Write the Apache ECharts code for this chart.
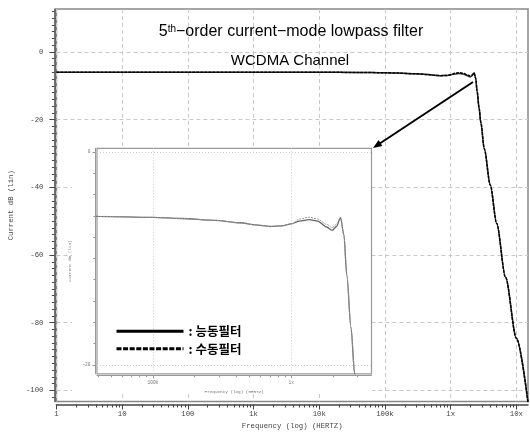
<!DOCTYPE html>
<html><head><meta charset="utf-8">
<script src="https://cdn.jsdelivr.net/npm/echarts@6/dist/echarts.min.js"></script>
<style>html,body{margin:0;padding:0;background:#fff}#c{width:530px;height:435px}</style>
</head><body><div id="c"></div>
<script>
// ---- data ----
const freqHz = [1, 10, 100, 1e3, 1e4, 4e4, 1e5, 1.6e5, 2.8e5, 4.3e5, 5.5e5, 7e5, 8.5e5, 1e6, 1.15e6, 1.35e6, 1.55e6, 1.8e6, 1.98e6, 2.12e6, 2.27e6, 2.4e6, 2.52e6, 2.7e6, 2.87e6, 3.24e6, 4e6, 5e6, 6.82e6, 1e7, 1.5e7];
const activeDb = [-6.0, -6.0, -6.0, -6.0, -6.0, -6.05, -6.15, -6.25, -6.42, -6.65, -6.85, -7.0, -6.95, -6.75, -6.5, -6.35, -6.5, -7.05, -7.36, -7.0, -6.16, -7.8, -11.6, -16.5, -20.8, -28.6, -39.3, -50.6, -66.6, -84.6, -103.6];
const passiveDb = [-6.0, -6.0, -6.0, -6.0, -6.0, -6.05, -6.15, -6.25, -6.42, -6.65, -6.85, -7.0, -6.95, -6.75, -6.3, -6.13, -6.3, -6.8, -7.1, -6.8, -6.16, -7.8, -11.6, -16.5, -20.8, -28.6, -39.3, -50.6, -66.6, -84.6, -103.6];
const seriesNames = ['능동필터', '수동필터'];

const xMajor = [1, 10, 100, 1e3, 1e4, 1e5, 1e6, 1e7];
const xTickLabels = ['1', '10', '100', '1k', '10k', '100k', '1x', '10x'];
const yMajor = [0, -20, -40, -60, -80, -100];
const yTickLabels = ['0', '-20', '-40', '-60', '-80', '-100'];

const insetXMajor = [1e5, 1e6];
const insetXLabels = ['100k', '1x'];
const insetYMajor = [0, -20];
const insetYLabels = ['0', '-20'];

const titleText = '5{sup|th}−order current−mode lowpass filter';
const subtitleText = 'WCDMA Channel';

// ---- axis tick helpers ----
const xMinor = [];
for (let d = 1; d <= 1e7; d *= 10) for (let k = 2; k <= 9; k++) if (k * d <= 1.5e7) xMinor.push(k * d);
const yMinor = [];
for (let v = -102; v <= 12; v += 2) yMinor.push(v);
const insetXMinor = [4e4, 5e4, 6e4, 7e4, 8e4, 9e4, 2e5, 3e5, 4e5, 5e5, 6e5, 7e5, 8e5, 9e5, 2e6, 3e6];
const insetYMinor = [];
for (let v = 0; v >= -20; v -= 2) insetYMinor.push(v);

const pairs = ys => freqHz.map((f, i) => [f, ys[i]]);
const mono = 'Liberation Mono';
const axisCol = '#444';

function lbl(values, labels, v) {
  let best = 0, bd = Infinity;
  values.forEach((x, i) => { const d = Math.abs(Math.log10(x) - Math.log10(v)); if (d < bd) { bd = d; best = i; } });
  return labels[best];
}

const chart = echarts.init(document.getElementById('c'));
const option = {
  animation: false,
  backgroundColor: '#fff',
  title: [
    { text: titleText, left: 291, top: 24, textAlign: 'center', padding: 0,
      textStyle: { fontFamily: 'Liberation Sans', fontSize: 16, fontWeight: 'normal', color: '#000',
        rich: { sup: { fontFamily: 'Liberation Sans', fontSize: 10, verticalAlign: 'top', color: '#000' } } } },
    { text: subtitleText, left: 290, top: 53.5, textAlign: 'center', padding: 0,
      textStyle: { fontFamily: 'Liberation Sans', fontSize: 15, fontWeight: 'normal', color: '#000' } }
  ],
  legend: {
    orient: 'vertical', left: 115, top: 325, padding: 0, itemWidth: 67, itemHeight: 14, itemGap: 5, z: 20,
    data: [{ name: seriesNames[0] }, { name: seriesNames[1], lineStyle: { type: [5, 1.6] } }],
    formatter: ': {name}', selectedMode: false,
    lineStyle: { color: '#000', width: 3 },
    itemStyle: { opacity: 0, borderWidth: 0 },
    textStyle: { fontFamily: 'Noto Sans CJK KR', fontSize: 12.5, fontWeight: 'bold', color: '#000' }
  },
  grid: [
    { left: 54, right: 2, top: 9, bottom: 29.5, show: true, borderColor: '#888', borderWidth: 1.5, z: 0 },
    { left: 97, right: 158.5, top: 148.3, bottom: 61.2, show: true, borderColor: '#999', borderWidth: 1.2, backgroundColor: '#fff', z: 6 }
  ],
  xAxis: [
    { gridIndex: 0, type: 'log', logBase: 10, min: 1, max: 1.5e7, position: 'bottom', offset: 3, z: 1,
      axisLine: { show: true, onZero: false, lineStyle: { color: axisCol, width: 1.5 } },
      axisTick: { show: true, length: 5, customValues: xMajor, lineStyle: { color: axisCol } },
      axisLabel: { customValues: xMajor, formatter: v => lbl(xMajor, xTickLabels, v), fontFamily: mono, fontSize: 7.3, color: axisCol, margin: 6 },
      splitLine: { show: true, lineStyle: { color: '#c8c8c8', type: [4, 3] } },
      name: 'Frequency (log) (HERTZ)', nameLocation: 'middle', nameGap: 18.5,
      nameTextStyle: { fontFamily: mono, fontSize: 7.3, color: axisCol } },
    { gridIndex: 0, type: 'log', logBase: 10, min: 1, max: 1.5e7, position: 'bottom', offset: 3, z: 1,
      axisLine: { show: false, onZero: false }, axisLabel: { show: false }, splitLine: { show: false },
      axisTick: { show: true, length: 3, customValues: xMinor, lineStyle: { color: axisCol } } },
    { gridIndex: 1, type: 'log', logBase: 10, min: 39400, max: 3.8e6, position: 'bottom', offset: 1.5, z: 7,
      axisLine: { show: true, onZero: false, lineStyle: { color: '#999', width: 1 } },
      axisTick: { show: true, length: 3, customValues: insetXMajor, lineStyle: { color: '#999' } },
      axisLabel: { customValues: insetXMajor, formatter: v => lbl(insetXMajor, insetXLabels, v), fontFamily: mono, fontSize: 4.5, color: '#777', margin: 5 },
      splitLine: { show: true, lineStyle: { color: '#ccc', type: [1, 2] } },
      name: 'Frequency (log) (HERTZ)', nameLocation: 'middle', nameGap: 11.5,
      nameTextStyle: { fontFamily: mono, fontSize: 4.3, color: '#777' } },
    { gridIndex: 1, type: 'log', logBase: 10, min: 39400, max: 3.8e6, position: 'bottom', offset: 1.5, z: 7,
      axisLine: { show: false, onZero: false }, axisLabel: { show: false }, splitLine: { show: false },
      axisTick: { show: true, length: 2, customValues: insetXMinor, lineStyle: { color: '#999' } } }
  ],
  yAxis: [
    { gridIndex: 0, type: 'value', min: -103.3, max: 12.7, position: 'left', offset: 2, z: 1,
      axisLine: { show: true, onZero: false, lineStyle: { color: axisCol, width: 1.5 } },
      axisTick: { show: true, length: 5, customValues: yMajor, lineStyle: { color: axisCol } },
      axisLabel: { customValues: yMajor, formatter: v => yTickLabels[yMajor.indexOf(Math.round(v))], fontFamily: mono, fontSize: 7.3, color: axisCol, margin: 11 },
      splitLine: { show: true, lineStyle: { color: '#c8c8c8', type: [4, 3] } },
      name: 'Current dB (lin)', nameLocation: 'middle', nameGap: 36,
      nameTextStyle: { fontFamily: mono, fontSize: 7.3, color: axisCol } },
    { gridIndex: 0, type: 'value', min: -103.3, max: 12.7, position: 'left', offset: 2, z: 1,
      axisLine: { show: false, onZero: false }, axisLabel: { show: false }, splitLine: { show: false },
      axisTick: { show: true, length: 2.5, customValues: yMinor, lineStyle: { color: axisCol } } },
    { gridIndex: 1, type: 'value', min: -20.85, max: 0.35, position: 'left', offset: 1.5, z: 7,
      axisLine: { show: true, onZero: false, lineStyle: { color: '#999', width: 1 } },
      axisTick: { show: true, length: 3, customValues: insetYMajor, lineStyle: { color: '#999' } },
      axisLabel: { customValues: insetYMajor, formatter: v => insetYLabels[insetYMajor.indexOf(Math.round(v))], fontFamily: mono, fontSize: 4.5, color: '#777', margin: 5 },
      splitLine: { show: true, lineStyle: { color: '#ccc', type: [1, 2] } },
      name: 'Current dB (lin)', nameLocation: 'middle', nameGap: 17.5,
      nameTextStyle: { fontFamily: mono, fontSize: 4.3, color: '#777' } },
    { gridIndex: 1, type: 'value', min: -20.85, max: 0.35, position: 'left', offset: 1.5, z: 7,
      axisLine: { show: false, onZero: false }, axisLabel: { show: false }, splitLine: { show: false },
      axisTick: { show: true, length: 2, customValues: insetYMinor, lineStyle: { color: '#999' } } }
  ],
  series: [
    { name: seriesNames[0], type: 'line', xAxisIndex: 0, yAxisIndex: 0, data: pairs(activeDb),
      symbol: 'none', smooth: 0.3, smoothMonotone: 'x', z: 3, color: '#333',
      lineStyle: { color: '#333', width: 1.5, type: 'solid' } },
    { name: seriesNames[1], type: 'line', xAxisIndex: 0, yAxisIndex: 0, data: pairs(passiveDb),
      symbol: 'none', smooth: 0.3, smoothMonotone: 'x', z: 3, color: '#000',
      lineStyle: { color: '#000', width: 1.5, type: [3, 1] } },
    { name: seriesNames[0], type: 'line', xAxisIndex: 2, yAxisIndex: 2, data: pairs(activeDb),
      symbol: 'none', smooth: 0.3, smoothMonotone: 'x', z: 8, color: '#666',
      lineStyle: { color: '#666', width: 1.3, type: 'solid' } },
    { name: seriesNames[1], type: 'line', xAxisIndex: 2, yAxisIndex: 2, data: pairs(passiveDb),
      symbol: 'none', smooth: 0.3, smoothMonotone: 'x', z: 8, color: '#999',
      lineStyle: { color: '#999', width: 1, type: [2, 1] } }
  ],
  graphic: {
    elements: [
      { type: 'rect', z: 5, silent: true, shape: { x: 72, y: 147, width: 300, height: 246 }, style: { fill: '#fff' } },
      { type: 'line', z: 30, silent: true, shape: { x1: 473, y1: 82, x2: 379, y2: 144 }, style: { stroke: '#000', lineWidth: 2 } },
      { type: 'polygon', z: 30, silent: true, shape: { points: [[373, 148], [382.4, 145.9], [378.6, 140.1]] }, style: { fill: '#000' } }
    ]
  }
};
chart.setOption(option);
</script>
</body></html>
